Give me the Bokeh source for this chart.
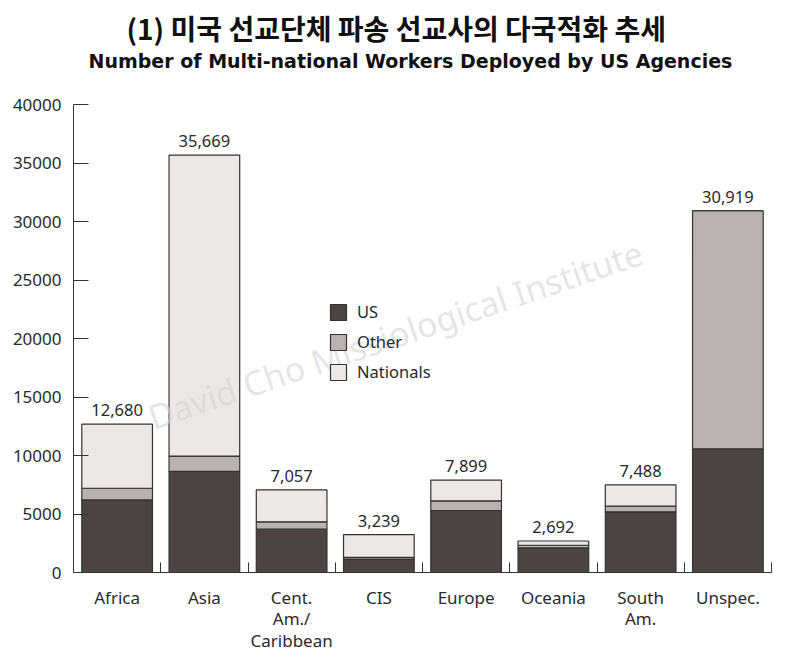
from bokeh.plotting import figure
from bokeh.models import (Range1d, LinearAxis, FixedTicker,
                          Title, Label, Legend, LegendItem, ColumnDataSource, BasicTickFormatter)
from bokeh.core.properties import value
from bokeh.embed import file_html
from bokeh.resources import INLINE

regions = ["Africa", "Asia", "Cent.\nAm./\nCaribbean", "CIS", "Europe", "Oceania", "South\nAm.", "Unspec."]
us = [6200, 8650, 3700, 1150, 5300, 2100, 5190, 10570]
other = [1000, 1300, 630, 150, 830, 230, 480, 20349]
nationals = [5480, 25719, 2727, 1939, 1769, 362, 1818, 0]
totals = [12680, 35669, 7057, 3239, 7899, 2692, 7488, 30919]
total_labels = ["12,680", "35,669", "7,057", "3,239", "7,899", "2,692", "7,488", "30,919"]
y_ticks = [0, 5000, 10000, 15000, 20000, 25000, 30000, 35000, 40000]

FONT = "Noto Sans"
TXT = "#2a2a2a"
LINE = "#333333"

n = len(regions)
centers = [i + 0.5 for i in range(n)]
bounds = [i + 1 for i in range(n)]

src = ColumnDataSource(dict(x=centers, US=us, Other=other, Nationals=nationals,
                            total=totals, label=total_labels))

p = figure(x_range=Range1d(0, n), y_range=Range1d(0, 40000),
           frame_width=698, frame_height=468, output_backend="svg", toolbar_location=None,
           x_axis_location=None, y_axis_location=None,
           min_border_left=0, min_border_right=16, min_border_top=0, min_border_bottom=0)
p.xgrid.visible = False
p.ygrid.visible = False
p.outline_line_color = None
p.background_fill_color = "white"
p.border_fill_color = "white"

rs = p.vbar_stack(["US", "Other", "Nationals"], x="x", width=0.81, source=src,
                  fill_color=["#4b4344", "#b8b2b3", "#ece8e8"],
                  line_color=LINE, line_width=1.2)

p.text(x="x", y="total", text="label", source=src, text_align="center",
       text_baseline="bottom", y_offset=-8, text_font=value(FONT), text_font_size="16.5px",
       text_color=TXT)

# y axis
yax = LinearAxis(ticker=FixedTicker(ticks=y_ticks), formatter=BasicTickFormatter(use_scientific=False),
                 major_tick_in=15, major_tick_out=0, minor_tick_line_color=None,
                 axis_line_color=LINE, major_tick_line_color=LINE, major_label_standoff=12,
                 major_label_text_font=FONT, major_label_text_font_size="17px",
                 major_label_text_color=TXT)
p.add_layout(yax, "left")
p.add_layout(Title(text=" ", text_font_size="1px", standoff=6), "left")

# x axis with boundary ticks
tax = LinearAxis(ticker=FixedTicker(ticks=bounds),
                 major_tick_in=10, major_tick_out=0, minor_tick_line_color=None,
                 axis_line_color=LINE, major_tick_line_color=LINE, major_label_text_alpha=0,
                 major_label_text_font_size="1px", major_label_standoff=0)
p.add_layout(tax, "below")
cax = LinearAxis(ticker=FixedTicker(ticks=centers),
                 major_label_overrides={c: r for c, r in zip(centers, regions)},
                 axis_line_color=None, major_tick_line_color=None, minor_tick_line_color=None,
                 major_label_text_font=FONT, major_label_text_font_size="17px",
                 major_label_text_line_height=0.95,
                 major_label_text_color=TXT, major_label_standoff=7)
p.add_layout(cax, "below")

legend = Legend(items=[LegendItem(label="US", renderers=[rs[0]]),
                       LegendItem(label="Other", renderers=[rs[1]]),
                       LegendItem(label="Nationals", renderers=[rs[2]])],
                location=(255, 189), glyph_width=20, glyph_height=20, spacing=7,
                label_text_font=FONT, label_text_font_size="16.5px", label_text_color=TXT,
                border_line_color=None, background_fill_alpha=0, padding=0, margin=0,
                label_standoff=9)
p.add_layout(legend, "center")

wm = Label(x=3.69, y=20340, text="David Cho Missiological Institute",
           angle=18.7, angle_units="deg", text_align="center", text_baseline="middle",
           text_font=FONT, text_font_size="34px", text_color="#d4d4d4", text_alpha=0.6)
p.add_layout(wm)

p.add_layout(Title(text=" ", text_font_size="1px", standoff=30), "above")
sub = Title(text="Number of Multi-national Workers Deployed by US Agencies", align="left",
            text_font="DejaVu Sans", text_font_style="bold", text_font_size="19px",
            text_color="#111111", standoff=0, offset=15)
p.add_layout(sub, "above")
main = Title(text="(1) 미국 선교단체 파송 선교사의 다국적화 추세", align="left",
             text_font="Noto Sans CJK KR", text_font_style="bold", text_font_size="28px",
             text_line_height=0.75, text_color="#111111", standoff=0, offset=53)
p.add_layout(main, "above")
p.add_layout(Title(text=" ", text_font_size="1px", standoff=2), "above")

open("out.html", "w").write(file_html(p, INLINE))
